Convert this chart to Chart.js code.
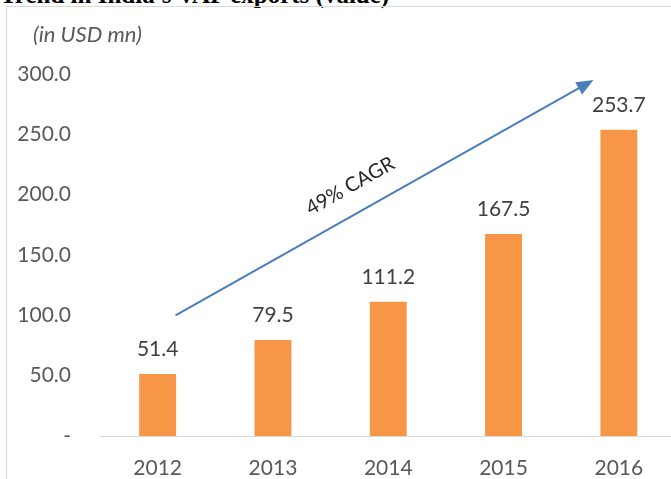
<!DOCTYPE html>
<html>
<head>
<meta charset="utf-8">
<script src="https://cdn.jsdelivr.net/npm/chart.js@4"></script>
<style>
  html, body { margin: 0; padding: 0; background: #fff; overflow: hidden; }
  #wrap { position: relative; width: 671px; height: 479px; overflow: hidden; }
  #title { position: absolute; left: 0; top: -19px; font: bold 25px "Liberation Serif", serif; color: #000; white-space: nowrap; }
  #frame { position: absolute; left: 6px; top: 6px; width: 700px; height: 500px; border-left: 1px solid #d9d9d9; border-top: 1px solid #d9d9d9; }
  #box { position: absolute; left: 0; top: 0; width: 680px; height: 479px; }
</style>
</head>
<body>
<div id="wrap">
  <div id="title">Trend in India's VAP exports (value)</div>
  <div id="frame"></div>
  <div id="box"><canvas id="vapChart"></canvas></div>
</div>
<script>
const years = ["2012", "2013", "2014", "2015", "2016"];
const exportValues = [51.4, 79.5, 111.2, 167.5, 253.7];
const yTickValues = [0, 50, 100, 150, 200, 250, 300];
const unitLabel = "(in USD mn)";
const cagrLabel = "49% CAGR";
// arrow ends in data units: [category index, value]
const arrowFrom = [0.155, 100];
const arrowTo = [3.78, 295];

const labelFont = "Lato, 'Open Sans', sans-serif";

// value labels, unit label and the CAGR arrow
const extrasPlugin = {
  id: "extras",
  afterDatasetsDraw(chart) {
    const ctx = chart.ctx;
    const x = chart.scales.x;
    const y = chart.scales.y;

    ctx.save();
    ctx.font = "21px " + labelFont;
    ctx.fillStyle = "#404040";
    ctx.textAlign = "center";
    ctx.textBaseline = "middle";
    chart.getDatasetMeta(0).data.forEach((bar, i) => {
      ctx.fillText(exportValues[i].toFixed(1), bar.x, bar.y - 25);
    });

    ctx.font = "italic 22px " + labelFont;
    ctx.fillStyle = "#595959";
    ctx.textAlign = "left";
    ctx.fillText(unitLabel, 33, 35);

    const x1 = x.getPixelForValue(arrowFrom[0]);
    const y1 = y.getPixelForValue(arrowFrom[1]);
    const x2 = x.getPixelForValue(arrowTo[0]);
    const y2 = y.getPixelForValue(arrowTo[1]);
    const ang = Math.atan2(y2 - y1, x2 - x1);
    const headLen = 17;
    const headHalf = 7;

    ctx.strokeStyle = "#4a7ebb";
    ctx.fillStyle = "#4a7ebb";
    ctx.lineWidth = 2;
    ctx.beginPath();
    ctx.moveTo(x1, y1);
    ctx.lineTo(x2 - Math.cos(ang) * headLen * 0.8, y2 - Math.sin(ang) * headLen * 0.8);
    ctx.stroke();

    ctx.beginPath();
    ctx.moveTo(x2, y2);
    ctx.lineTo(x2 - Math.cos(ang) * headLen - Math.sin(ang) * headHalf,
               y2 - Math.sin(ang) * headLen + Math.cos(ang) * headHalf);
    ctx.lineTo(x2 - Math.cos(ang) * headLen + Math.sin(ang) * headHalf,
               y2 - Math.sin(ang) * headLen - Math.cos(ang) * headHalf);
    ctx.closePath();
    ctx.fill();

    // CAGR text, sitting above the arrow
    const t = 0.45;
    const mx = x1 + (x2 - x1) * t + Math.sin(ang) * 27;
    const my = y1 + (y2 - y1) * t - Math.cos(ang) * 27;
    ctx.translate(mx, my);
    ctx.rotate(ang);
    ctx.font = "20px " + labelFont;
    ctx.fillStyle = "#262626";
    ctx.textAlign = "center";
    ctx.fillText(cagrLabel, 0, 0);
    ctx.restore();
  }
};

new Chart(document.getElementById("vapChart"), {
  type: "bar",
  data: {
    labels: years,
    datasets: [{
      data: exportValues,
      backgroundColor: "#f79646",
      barPercentage: 0.32,
      categoryPercentage: 1
    }]
  },
  options: {
    responsive: true,
    maintainAspectRatio: false,
    animation: false,
    layout: { padding: { top: 74, right: 3.5, bottom: 0, left: 0 } },
    plugins: {
      legend: { display: false },
      tooltip: { enabled: false }
    },
    scales: {
      x: {
        grid: { display: false },
        border: { color: "#d9d9d9", width: 1 },
        ticks: {
          color: "#595959",
          font: { family: labelFont, size: 21 },
          padding: 12
        },
        afterFit(scale) { scale.height = 43; }
      },
      y: {
        min: 0,
        max: 300,
        grid: { display: false },
        border: { display: false },
        afterBuildTicks(scale) {
          scale.ticks = yTickValues.map(v => ({ value: v }));
        },
        ticks: {
          color: "#595959",
          font: { family: labelFont, size: 21 },
          padding: 21,
          callback: v => v === 0 ? "-" : v.toFixed(1)
        },
        afterFit(scale) { scale.width = 100; }
      }
    }
  },
  plugins: [extrasPlugin]
});
</script>
</body>
</html>
